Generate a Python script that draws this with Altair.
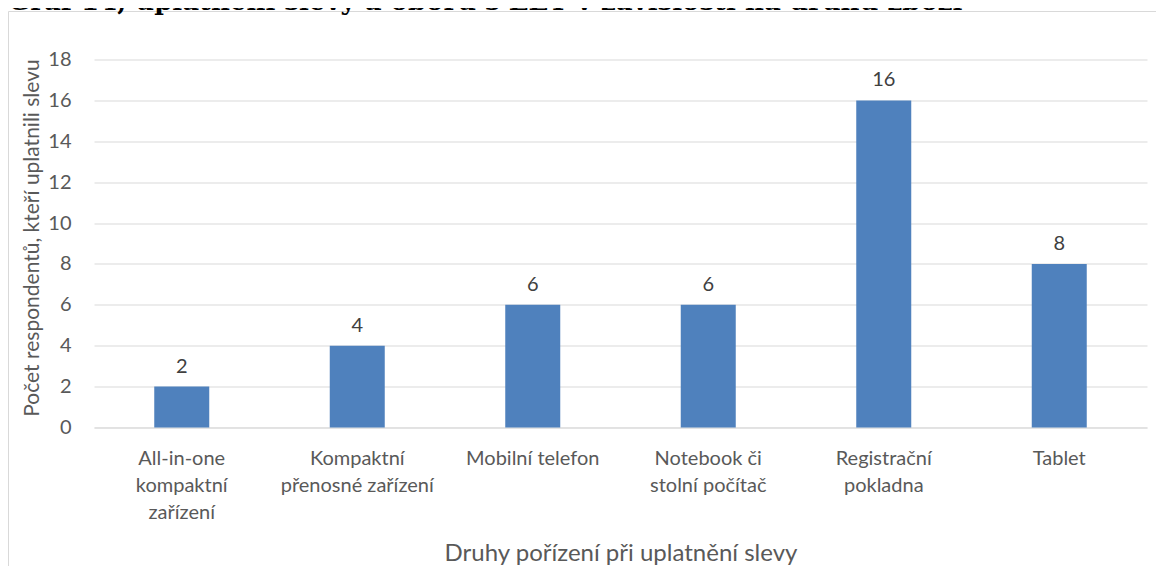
import json
import altair as alt
import pandas as pd

# ---- data ----
categories = [
    "All-in-one kompaktní zařízení",
    "Kompaktní přenosné zařízení",
    "Mobilní telefon",
    "Notebook či stolní počítač",
    "Registrační pokladna",
    "Tablet",
]
label_lines = [
    ["All-in-one", "kompaktní", "zařízení"],
    ["Kompaktní", "přenosné zařízení"],
    ["Mobilní telefon"],
    ["Notebook či", "stolní počítač"],
    ["Registrační", "pokladna"],
    ["Tablet"],
]
values = [2, 4, 6, 6, 16, 8]
y_ticks = [0, 2, 4, 6, 8, 10, 12, 14, 16, 18]

chart_title = "Graf 14, uplatnění slevy a oborů s EET v závislosti na druhu zboží"
x_title = "Druhy pořízení při uplatnění slevy"
y_title = "Počet respondentů, kteří uplatnili slevu"

df = pd.DataFrame({"kategorie": categories, "pocet": values})

label_expr = " : ".join(
    f"datum.value === {json.dumps(c, ensure_ascii=False)} ? {json.dumps(l, ensure_ascii=False)}"
    for c, l in zip(categories, label_lines)
) + " : datum.value"

FONT = "Lato"
GRAY = "#595959"
GRID = "#d9d9d9"

W, H = 1053, 368

x_enc = alt.X(
    "kategorie:N",
    sort=categories,
    scale=alt.Scale(paddingInner=0, paddingOuter=0),
    axis=alt.Axis(
        labelAngle=0,
        domain=True,
        domainColor=GRID,
        domainWidth=1,
        ticks=False,
        grid=False,
        labelPadding=21,
        labelBaseline="top",
        labelLineHeight=27,
        labelExpr=label_expr,
        labelLimit=400,
        labelFont=FONT,
        labelFontSize=20,
        labelColor=GRAY,
        title=x_title,
        titleFont=FONT,
        titleFontSize=24,
        titleFontWeight="normal",
        titleColor=GRAY,
        titleX=W / 2,
        titleY=133,
        titleAlign="center",
        titleBaseline="alphabetic",
    ),
)

y_enc = alt.Y(
    "pocet:Q",
    scale=alt.Scale(domain=[0, 18], nice=False),
    axis=alt.Axis(
        values=y_ticks,
        grid=True,
        gridColor=GRID,
        gridWidth=1,
        domain=False,
        ticks=False,
        tickSize=0,
        labelPadding=23,
        labelFont=FONT,
        labelFontSize=20,
        labelColor=GRAY,
        title=y_title,
        titleFont=FONT,
        titleFontSize=21,
        titleFontWeight="normal",
        titleColor=GRAY,
        titleX=-56,
        titleY=H / 2 - 6,
        titleAngle=270,
        titleAlign="center",
        titleBaseline="alphabetic",
    ),
)

bars = alt.Chart(df).mark_bar(size=55, color="#4f81bd").encode(x=x_enc, y=y_enc)

labels = alt.Chart(df).mark_text(
    dy=-14, baseline="alphabetic", align="center", font=FONT, fontSize=20, color="#404040"
).encode(x=alt.X("kategorie:N", sort=categories), y="pocet:Q", text="pocet:Q")

deco = pd.DataFrame({"t": [chart_title]})

border_left = alt.Chart(deco).mark_rule(color=GRID, strokeWidth=1).encode(
    x=alt.value(-85.5), y=alt.value(-48), y2=alt.value(700)
)
border_top = alt.Chart(deco).mark_rule(color=GRID, strokeWidth=1).encode(
    x=alt.value(-85.5), x2=alt.value(1100), y=alt.value(-48)
)

title_mark = alt.Chart(deco).mark_text(
    align="left", baseline="alphabetic", font="DejaVu Serif", fontWeight="bold",
    fontSize=26, color="#000000"
).encode(x=alt.value(-86), y=alt.value(-49.5), text="t:N")

chart = alt.layer(border_left, border_top, title_mark, bars, labels).properties(
    width=W,
    height=H,
    padding={"left": 86, "top": 51.5, "right": 9, "bottom": 138},
    autosize=alt.AutoSizeParams(type="none"),
).configure_view(stroke=None)

chart.save("out.html", embed_options={"renderer": "svg", "actions": False})
